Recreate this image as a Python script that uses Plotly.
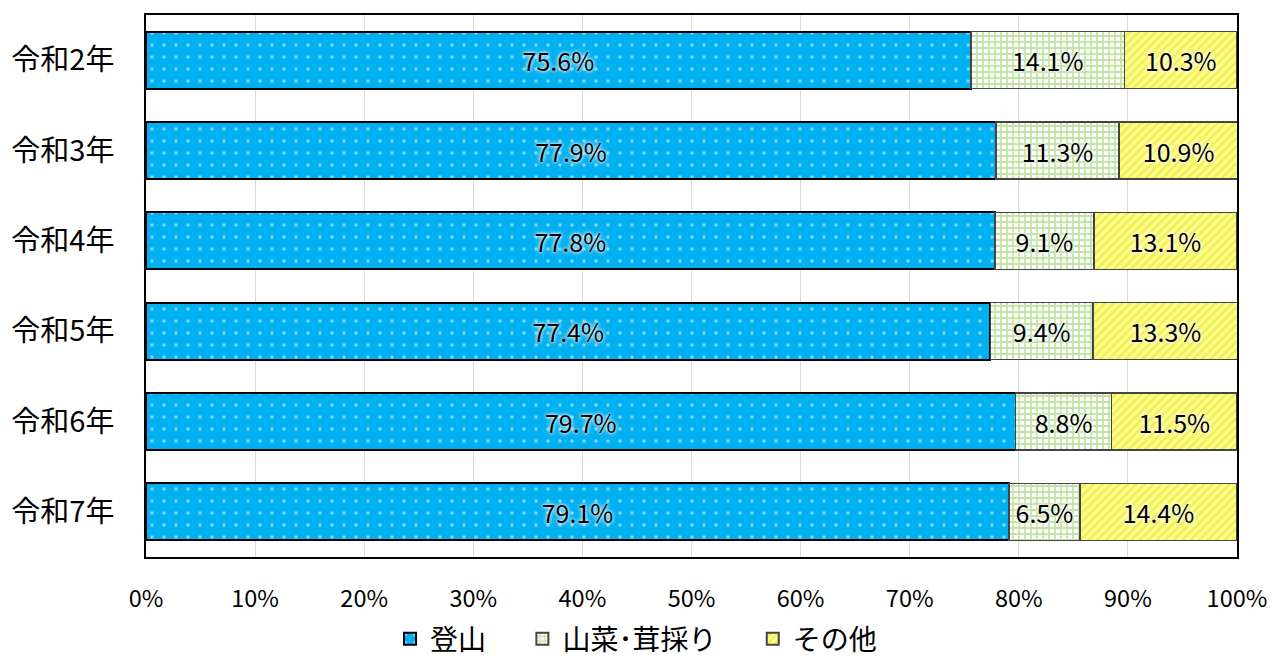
import plotly.graph_objects as go

years = ["令和2年", "令和3年", "令和4年", "令和5年", "令和6年", "令和7年"]
tozan = [75.6, 77.9, 77.8, 77.4, 79.7, 79.1]
sansai = [14.1, 11.3, 9.1, 9.4, 8.8, 6.5]
sonota = [10.3, 10.9, 13.1, 13.3, 11.5, 14.4]
series_names = ["登山", "山菜･茸採り", "その他"]
tick_vals = [0, 10, 20, 30, 40, 50, 60, 70, 80, 90, 100]
tick_text = [f"{v}%" for v in tick_vals]

font_family = "Noto Sans CJK JP, Noto Sans, sans-serif"
pad = "\u00a0" * 5

fig = go.Figure()
styles = [
    ("#00b0f0", dict(shape=".", fgcolor="#ffffff", bgcolor="#00b0f0", size=12, solidity=0.07),
     dict(color="#000000", width=2)),
    ("#92d050", dict(shape="+", fgcolor="#84c94a", bgcolor="#ffffff", size=6, solidity=0.5),
     dict(color="#444444", width=1.5)),
    ("#ffff66", dict(shape="/", fgcolor="#dede30", bgcolor="#ffff88", size=6, solidity=0.45),
     dict(color="#444444", width=1.5)),
]
for i, (name, vals) in enumerate(zip(series_names, [tozan, sansai, sonota])):
    col, pat, ln = styles[i]
    fig.add_trace(go.Bar(
        y=years, x=vals, name=name + (pad if i < 2 else ""), orientation="h",
        marker=dict(color=col, pattern=pat, line=ln),
        text=[f"{v:.1f}%" for v in vals], textposition="inside", insidetextanchor="middle",
        textfont=dict(size=25, color="#000000", family=font_family,
                      shadow="0px 0px 3px white, 0px 0px 5px white"),
        width=0.63,
        hoverinfo="skip",
    ))

fig.update_layout(
    barmode="stack",
    width=1272, height=664,
    margin=dict(l=146, r=35, t=15, b=107, autoexpand=False),
    plot_bgcolor="white", paper_bgcolor="white",
    font=dict(family=font_family, color="#000000"),
    showlegend=True,
    legend=dict(orientation="h", x=0.5, xanchor="center", xref="container",
                y=0.0, yanchor="bottom", yref="container",
                font=dict(size=28, family=font_family), traceorder="normal",
                itemsizing="constant"),
    uniformtext=dict(mode=False),
)
fig.update_xaxes(range=[0, 100], tickvals=tick_vals, ticktext=tick_text,
                 showgrid=True, gridcolor="#d9d9d9", gridwidth=1,
                 tickfont=dict(size=23.5), ticks="", showline=True, linecolor="#000000",
                 linewidth=1.5, mirror=True, zeroline=False, ticklabelstandoff=20)
fig.update_yaxes(autorange="reversed", tickfont=dict(size=29), ticks="", showline=True,
                 linecolor="#000000", linewidth=1.5, mirror=True, ticklabelstandoff=24)

fig.write_html("out.html")
